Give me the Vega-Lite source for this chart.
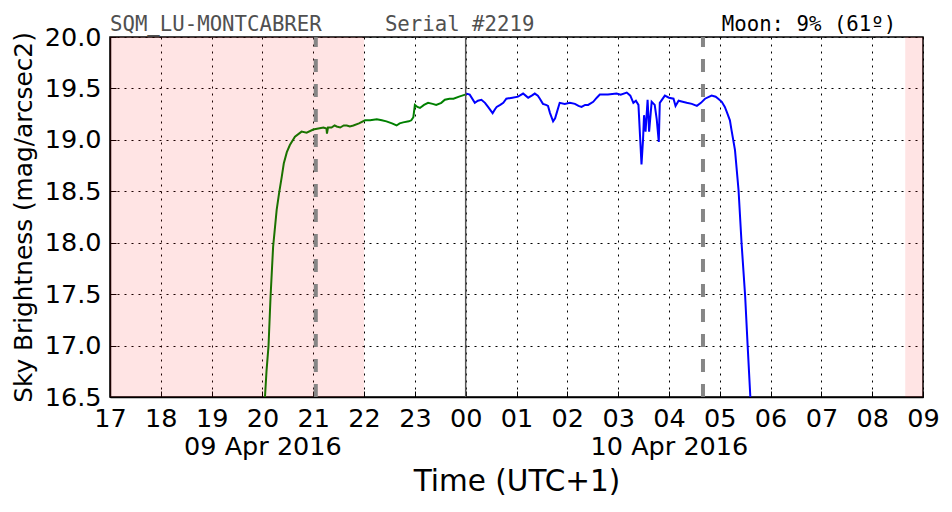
{
  "$schema": "https://vega.github.io/schema/vega-lite/v6.json",
  "autosize": "none",
  "width": 813,
  "height": 360,
  "padding": {"left": 110, "top": 37, "right": 29, "bottom": 115},
  "background": "white",
  "config": {
    "view": {"stroke": "black", "strokeWidth": 1.5},
    "font": "DejaVu Sans",
    "axis": {
      "labelFont": "DejaVu Sans",
      "titleFont": "DejaVu Sans",
      "labelFontSize": 25.5,
      "labelColor": "black",
      "titleColor": "black",
      "titleFontWeight": "normal",
      "domainColor": "black",
      "domainWidth": 1.5,
      "tickColor": "black",
      "grid": true,
      "gridColor": "black",
      "gridDash": [2, 5],
      "gridWidth": 1,
      "gridOpacity": 1
    }
  },
  "datasets": {
    "sqm": [
      {"h": 20.05, "mag": 16.5, "part": "evening"},
      {"h": 20.08, "mag": 16.75, "part": "evening"},
      {"h": 20.12, "mag": 17.0, "part": "evening"},
      {"h": 20.16, "mag": 17.48, "part": "evening"},
      {"h": 20.21, "mag": 17.96, "part": "evening"},
      {"h": 20.28, "mag": 18.32, "part": "evening"},
      {"h": 20.33, "mag": 18.49, "part": "evening"},
      {"h": 20.38, "mag": 18.64, "part": "evening"},
      {"h": 20.42, "mag": 18.77, "part": "evening"},
      {"h": 20.48, "mag": 18.88, "part": "evening"},
      {"h": 20.54, "mag": 18.95, "part": "evening"},
      {"h": 20.64, "mag": 19.03, "part": "evening"},
      {"h": 20.77, "mag": 19.08, "part": "evening"},
      {"h": 20.87, "mag": 19.07, "part": "evening"},
      {"h": 21.0, "mag": 19.1, "part": "evening"},
      {"h": 21.1, "mag": 19.11, "part": "evening"},
      {"h": 21.2, "mag": 19.12, "part": "evening"},
      {"h": 21.26, "mag": 19.11, "part": "evening"},
      {"h": 21.27, "mag": 19.06, "part": "evening"},
      {"h": 21.29, "mag": 19.12, "part": "evening"},
      {"h": 21.36, "mag": 19.12, "part": "evening"},
      {"h": 21.42, "mag": 19.14, "part": "evening"},
      {"h": 21.46, "mag": 19.13, "part": "evening"},
      {"h": 21.53, "mag": 19.12, "part": "evening"},
      {"h": 21.6, "mag": 19.14, "part": "evening"},
      {"h": 21.66, "mag": 19.14, "part": "evening"},
      {"h": 21.72, "mag": 19.13, "part": "evening"},
      {"h": 21.79, "mag": 19.14, "part": "evening"},
      {"h": 21.9, "mag": 19.16, "part": "evening"},
      {"h": 22.02, "mag": 19.19, "part": "evening"},
      {"h": 22.12, "mag": 19.19, "part": "evening"},
      {"h": 22.25, "mag": 19.2, "part": "evening"},
      {"h": 22.35, "mag": 19.19, "part": "evening"},
      {"h": 22.44, "mag": 19.18, "part": "evening"},
      {"h": 22.55, "mag": 19.16, "part": "evening"},
      {"h": 22.64, "mag": 19.14, "part": "evening"},
      {"h": 22.7, "mag": 19.16, "part": "evening"},
      {"h": 22.77, "mag": 19.17, "part": "evening"},
      {"h": 22.88, "mag": 19.18, "part": "evening"},
      {"h": 22.93, "mag": 19.19, "part": "evening"},
      {"h": 22.97, "mag": 19.22, "part": "evening"},
      {"h": 22.99, "mag": 19.3, "part": "evening"},
      {"h": 23.0, "mag": 19.34, "part": "evening"},
      {"h": 23.05, "mag": 19.32, "part": "evening"},
      {"h": 23.1, "mag": 19.31, "part": "evening"},
      {"h": 23.18, "mag": 19.34, "part": "evening"},
      {"h": 23.26, "mag": 19.36, "part": "evening"},
      {"h": 23.35, "mag": 19.35, "part": "evening"},
      {"h": 23.42, "mag": 19.34, "part": "evening"},
      {"h": 23.52, "mag": 19.36, "part": "evening"},
      {"h": 23.59, "mag": 19.39, "part": "evening"},
      {"h": 23.68, "mag": 19.4, "part": "evening"},
      {"h": 23.76, "mag": 19.4, "part": "evening"},
      {"h": 23.87, "mag": 19.42, "part": "evening"},
      {"h": 23.99, "mag": 19.44, "part": "evening"},
      {"h": 24.0, "mag": 19.45, "part": "morning"},
      {"h": 24.08, "mag": 19.44, "part": "morning"},
      {"h": 24.18, "mag": 19.36, "part": "morning"},
      {"h": 24.24, "mag": 19.38, "part": "morning"},
      {"h": 24.31, "mag": 19.39, "part": "morning"},
      {"h": 24.38, "mag": 19.36, "part": "morning"},
      {"h": 24.44, "mag": 19.32, "part": "morning"},
      {"h": 24.53, "mag": 19.26, "part": "morning"},
      {"h": 24.58, "mag": 19.3, "part": "morning"},
      {"h": 24.61, "mag": 19.32, "part": "morning"},
      {"h": 24.68, "mag": 19.34, "part": "morning"},
      {"h": 24.74, "mag": 19.36, "part": "morning"},
      {"h": 24.8, "mag": 19.4, "part": "morning"},
      {"h": 24.92, "mag": 19.41, "part": "morning"},
      {"h": 25.03, "mag": 19.42, "part": "morning"},
      {"h": 25.13, "mag": 19.45, "part": "morning"},
      {"h": 25.18, "mag": 19.43, "part": "morning"},
      {"h": 25.23, "mag": 19.41, "part": "morning"},
      {"h": 25.3, "mag": 19.43, "part": "morning"},
      {"h": 25.36, "mag": 19.45, "part": "morning"},
      {"h": 25.42, "mag": 19.43, "part": "morning"},
      {"h": 25.46, "mag": 19.4, "part": "morning"},
      {"h": 25.52, "mag": 19.35, "part": "morning"},
      {"h": 25.58, "mag": 19.34, "part": "morning"},
      {"h": 25.62, "mag": 19.33, "part": "morning"},
      {"h": 25.66, "mag": 19.26, "part": "morning"},
      {"h": 25.72, "mag": 19.18, "part": "morning"},
      {"h": 25.76, "mag": 19.21, "part": "morning"},
      {"h": 25.79, "mag": 19.26, "part": "morning"},
      {"h": 25.85, "mag": 19.36, "part": "morning"},
      {"h": 25.95, "mag": 19.35, "part": "morning"},
      {"h": 26.05, "mag": 19.36, "part": "morning"},
      {"h": 26.15, "mag": 19.35, "part": "morning"},
      {"h": 26.22, "mag": 19.33, "part": "morning"},
      {"h": 26.28, "mag": 19.32, "part": "morning"},
      {"h": 26.35, "mag": 19.34, "part": "morning"},
      {"h": 26.41, "mag": 19.34, "part": "morning"},
      {"h": 26.51, "mag": 19.37, "part": "morning"},
      {"h": 26.58, "mag": 19.41, "part": "morning"},
      {"h": 26.64, "mag": 19.44, "part": "morning"},
      {"h": 26.8, "mag": 19.44, "part": "morning"},
      {"h": 26.97, "mag": 19.45, "part": "morning"},
      {"h": 27.05, "mag": 19.44, "part": "morning"},
      {"h": 27.17, "mag": 19.46, "part": "morning"},
      {"h": 27.24, "mag": 19.43, "part": "morning"},
      {"h": 27.3, "mag": 19.36, "part": "morning"},
      {"h": 27.35, "mag": 19.38, "part": "morning"},
      {"h": 27.4, "mag": 19.34, "part": "morning"},
      {"h": 27.43, "mag": 19.05, "part": "morning"},
      {"h": 27.46, "mag": 18.76, "part": "morning"},
      {"h": 27.49, "mag": 19.0, "part": "morning"},
      {"h": 27.51, "mag": 19.24, "part": "morning"},
      {"h": 27.54, "mag": 19.08, "part": "morning"},
      {"h": 27.58, "mag": 19.39, "part": "morning"},
      {"h": 27.61, "mag": 19.08, "part": "morning"},
      {"h": 27.66, "mag": 19.37, "part": "morning"},
      {"h": 27.72, "mag": 19.34, "part": "morning"},
      {"h": 27.76, "mag": 19.2, "part": "morning"},
      {"h": 27.8, "mag": 18.98, "part": "morning"},
      {"h": 27.82, "mag": 19.36, "part": "morning"},
      {"h": 27.92, "mag": 19.43, "part": "morning"},
      {"h": 28.0, "mag": 19.41, "part": "morning"},
      {"h": 28.09, "mag": 19.4, "part": "morning"},
      {"h": 28.13, "mag": 19.33, "part": "morning"},
      {"h": 28.19, "mag": 19.38, "part": "morning"},
      {"h": 28.27, "mag": 19.37, "part": "morning"},
      {"h": 28.35, "mag": 19.36, "part": "morning"},
      {"h": 28.45, "mag": 19.35, "part": "morning"},
      {"h": 28.55, "mag": 19.33, "part": "morning"},
      {"h": 28.63, "mag": 19.36, "part": "morning"},
      {"h": 28.71, "mag": 19.4, "part": "morning"},
      {"h": 28.84, "mag": 19.43, "part": "morning"},
      {"h": 28.92, "mag": 19.42, "part": "morning"},
      {"h": 28.97, "mag": 19.4, "part": "morning"},
      {"h": 29.04, "mag": 19.37, "part": "morning"},
      {"h": 29.1, "mag": 19.32, "part": "morning"},
      {"h": 29.14, "mag": 19.27, "part": "morning"},
      {"h": 29.2, "mag": 19.19, "part": "morning"},
      {"h": 29.23, "mag": 19.1, "part": "morning"},
      {"h": 29.3, "mag": 18.9, "part": "morning"},
      {"h": 29.37, "mag": 18.51, "part": "morning"},
      {"h": 29.43, "mag": 17.99, "part": "morning"},
      {"h": 29.5, "mag": 17.48, "part": "morning"},
      {"h": 29.55, "mag": 16.99, "part": "morning"},
      {"h": 29.6, "mag": 16.52, "part": "morning"},
      {"h": 29.62, "mag": 16.3, "part": "morning"}
    ],
    "twilight": [
      {"start": 17.0, "end": 22.0},
      {"start": 32.65, "end": 33.0}
    ],
    "events": [
      {"h": 21.05},
      {"h": 28.67}
    ],
    "midnight": [
      {"h": 24.0}
    ],
    "station": [
      {"pos": 17.0, "label": "SQM_LU-MONTCABRER"},
      {"pos": 22.41, "label": "Serial #2219"}
    ],
    "moon": [
      {"pos": 29.04, "label": "Moon: 9% (61º)"}
    ]
  },
  "layer": [
    {
      "data": {"name": "sqm"},
      "mark": {"type": "line", "strokeWidth": 2, "clip": true},
      "encoding": {
        "x": {
          "field": "h",
          "type": "quantitative",
          "scale": {"domain": [17, 33], "nice": false, "zero": false},
          "axis": {
            "title": "Time (UTC+1)",
            "titleFontSize": 29.5,
            "titlePadding": 8,
            "values": [17, 18, 19, 20, 21, 22, 23, 24, 25, 26, 27, 28, 29, 30, 31, 32, 33],
            "labelExpr": "datum.value == 20 ? ['20', '09 Apr 2016'] : datum.value == 28 ? ['04', '10 Apr 2016'] : ((datum.value % 24) < 10 ? '0' : '') + (datum.value % 24)",
            "labelLineHeight": 28,
            "labelOverlap": false,
            "labelFlush": false,
            "labelPadding": 15,
            "tickSize": -6
          }
        },
        "y": {
          "field": "mag",
          "type": "quantitative",
          "scale": {"domain": [16.5, 20.0], "nice": false, "zero": false},
          "axis": {
            "title": "Sky Brightness (mag/arcsec2)",
            "titleFontSize": 24.8,
            "titlePadding": 8,
            "values": [16.5, 17.0, 17.5, 18.0, 18.5, 19.0, 19.5, 20.0],
            "format": ".1f",
            "labelOverlap": false,
            "labelFlush": false,
            "labelPadding": 15,
            "tickSize": -6
          }
        },
        "color": {
          "field": "part",
          "type": "nominal",
          "scale": {"domain": ["evening", "morning"], "range": ["#008000", "#0000ff"]},
          "legend": null
        }
      }
    },
    {
      "data": {"name": "twilight"},
      "mark": {"type": "rect", "color": "red", "opacity": 0.105},
      "encoding": {
        "x": {"field": "start", "type": "quantitative"},
        "x2": {"field": "end"},
        "y": {"datum": 16.5},
        "y2": {"datum": 20.0}
      }
    },
    {
      "data": {"name": "events"},
      "mark": {"type": "rule", "color": "#808080", "strokeWidth": 4, "strokeDash": [13, 12], "opacity": 0.95},
      "encoding": {
        "x": {"field": "h", "type": "quantitative"},
        "y": {"datum": 16.5},
        "y2": {"datum": 20.0}
      }
    },
    {
      "data": {"name": "midnight"},
      "mark": {"type": "rule", "color": "#555555", "strokeWidth": 1.5},
      "encoding": {
        "x": {"field": "h", "type": "quantitative"},
        "y": {"datum": 16.5},
        "y2": {"datum": 20.0}
      }
    },
    {
      "data": {"name": "station"},
      "mark": {"type": "text", "font": "DejaVu Sans Mono", "fontSize": 20.7, "color": "#505050", "align": "left", "baseline": "alphabetic", "dy": -6},
      "encoding": {
        "x": {"field": "pos", "type": "quantitative"},
        "y": {"datum": 20.0},
        "text": {"field": "label"}
      }
    },
    {
      "data": {"name": "moon"},
      "mark": {"type": "text", "font": "DejaVu Sans Mono", "fontSize": 20.7, "color": "black", "align": "left", "baseline": "alphabetic", "dy": -6},
      "encoding": {
        "x": {"field": "pos", "type": "quantitative"},
        "y": {"datum": 20.0},
        "text": {"field": "label"}
      }
    }
  ]
}
